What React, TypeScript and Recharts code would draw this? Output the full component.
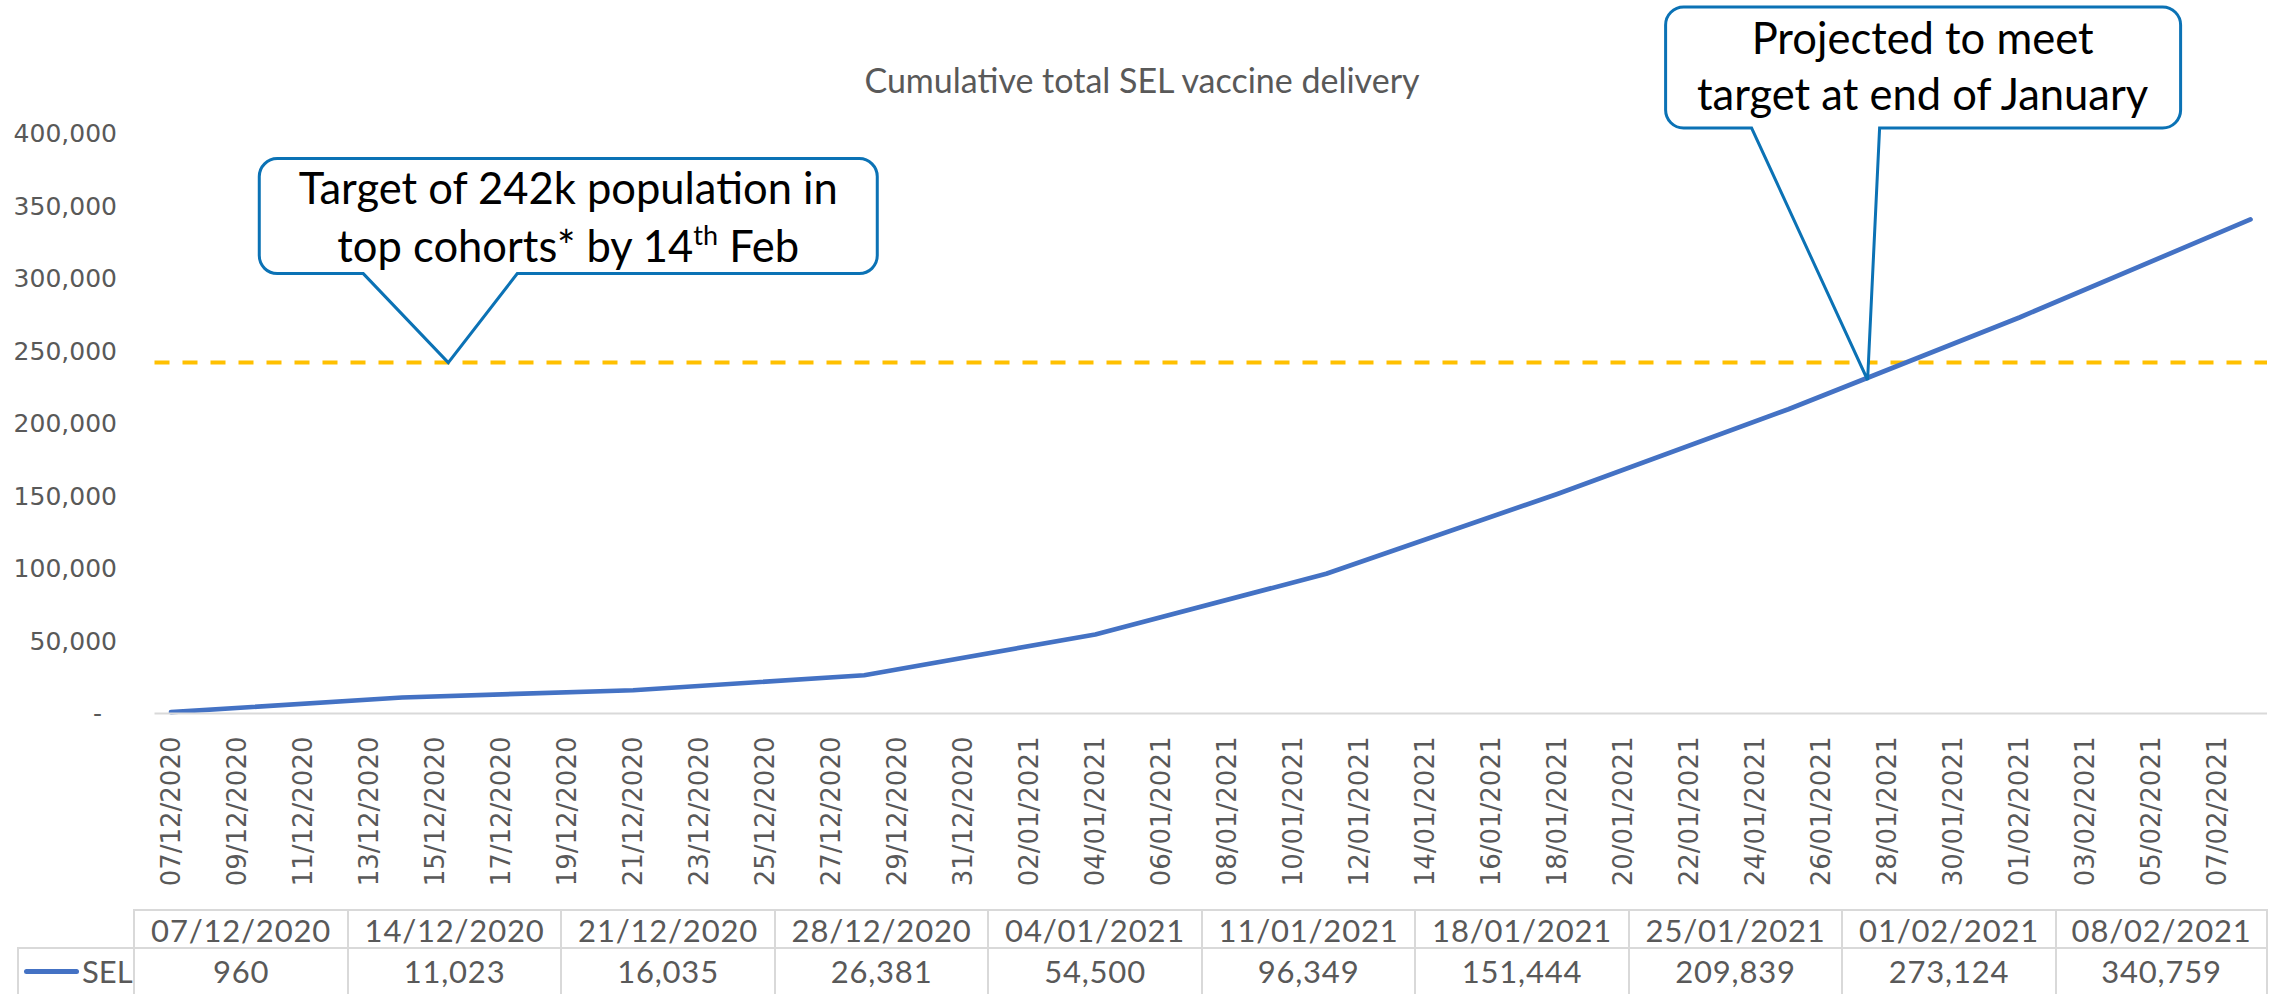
import React from 'react';
import { LineChart, Line, XAxis, YAxis, ReferenceLine, ReferenceDot } from 'recharts';

// weekly cumulative totals, x = days since 07/12/2020
const weekDates = [
  '07/12/2020', '14/12/2020', '21/12/2020', '28/12/2020', '04/01/2021',
  '11/01/2021', '18/01/2021', '25/01/2021', '01/02/2021', '08/02/2021',
];
const weekDays = [0, 7, 14, 21, 28, 35, 42, 49, 56, 63];
const selValues = [960, 11023, 16035, 26381, 54500, 96349, 151444, 209839, 273124, 340759];

// date axis labels, one every 2 days
const axisLabels = [
  '07/12/2020', '09/12/2020', '11/12/2020', '13/12/2020', '15/12/2020', '17/12/2020',
  '19/12/2020', '21/12/2020', '23/12/2020', '25/12/2020', '27/12/2020', '29/12/2020',
  '31/12/2020', '02/01/2021', '04/01/2021', '06/01/2021', '08/01/2021', '10/01/2021',
  '12/01/2021', '14/01/2021', '16/01/2021', '18/01/2021', '20/01/2021', '22/01/2021',
  '24/01/2021', '26/01/2021', '28/01/2021', '30/01/2021', '01/02/2021', '03/02/2021',
  '05/02/2021', '07/02/2021',
];
const yTicks = [0, 50000, 100000, 150000, 200000, 250000, 300000, 350000, 400000];
const targetValue = 242000;

// where the callout pointers touch the chart (day, value)
const targetCallout = { day: 8.4, value: 242000 };
const projectedCallout = { day: 51.4, value: 230000 };

const data = weekDays.map((d, i) => ({ day: d, date: weekDates[i], sel: selValues[i] }));
const labelDays = axisLabels.map((_, i) => i * 2);
const boundaryTicks = [...labelDays.map((d) => d - 0.5), 63.5];

const AXIS_FONT = '"DejaVu Sans", sans-serif';
const TEXT_FONT = 'Lato, "Open Sans", sans-serif';
const GREY = '#595959';

const YTick = (props: any) => {
  const { x, y, payload } = props;
  const v = payload.value as number;
  return (
    <text
      x={v === 0 ? x - 15 : x}
      y={y}
      textAnchor="end"
      dominantBaseline="central"
      fontFamily={AXIS_FONT}
      fontSize={25}
      fill={GREY}
    >
      {v === 0 ? '-' : v.toLocaleString('en-US')}
    </text>
  );
};

const XTick = (props: any) => {
  const { x, y, payload } = props;
  const label = axisLabels[Math.round(payload.value / 2)];
  const tx = x + 9;
  const ty = y + 22;
  return (
    <text
      x={tx}
      y={ty}
      transform={`rotate(-90, ${tx}, ${ty})`}
      textAnchor="end"
      fontFamily={AXIS_FONT}
      fontSize={26}
      fill={GREY}
    >
      {label}
    </text>
  );
};

interface CalloutCfg {
  left: number;
  right: number;
  top: number;
  bottom: number;
  baseL: number;
  baseR: number;
  textX: number;
  lines: React.ReactNode[];
  baselines: number[];
}

const calloutShape = (c: CalloutCfg) => (p: any) => {
  const { cx, cy } = p;
  const L = cx + c.left;
  const R = cx + c.right;
  const T = cy + c.top;
  const B = cy + c.bottom;
  const r = 18;
  const d =
    `M${L + r},${T} H${R - r} A${r},${r} 0 0 1 ${R},${T + r} V${B - r} ` +
    `A${r},${r} 0 0 1 ${R - r},${B} H${cx + c.baseR} L${cx},${cy} L${cx + c.baseL},${B} ` +
    `H${L + r} A${r},${r} 0 0 1 ${L},${B - r} V${T + r} A${r},${r} 0 0 1 ${L + r},${T} Z`;
  return (
    <g>
      <path d={d} fill="#fff" stroke="#0B72B5" strokeWidth={3} />
      {c.lines.map((ln, i) => (
        <text
          key={i}
          x={cx + c.textX}
          y={cy + c.baselines[i]}
          textAnchor="middle"
          fontFamily={TEXT_FONT}
          fontSize={43.5}
          fill="#000"
        >
          {ln}
        </text>
      ))}
    </g>
  );
};

const targetShape = calloutShape({
  left: -189,
  right: 429,
  top: -204,
  bottom: -89,
  baseL: -85,
  baseR: 69,
  textX: 120,
  baselines: [-159, -101],
  lines: [
    'Target of 242k population in',
    <>
      <tspan>top cohorts* by 14</tspan>
      <tspan fontSize={27} dy={-17}>th</tspan>
      <tspan dy={17}> Feb</tspan>
    </>,
  ],
});

const projectedShape = calloutShape({
  left: -202,
  right: 313,
  top: -373,
  bottom: -252,
  baseL: -116,
  baseR: 12,
  textX: 55,
  baselines: [-326, -270],
  lines: ['Projected to meet', 'target at end of January'],
});

const tableLeft = 133.3;
const colW = 213.5;
const headTop = 909.3;
const rowDiv = 948.3;
const BORDER = '2px solid #d9d9d9';

const cellText: React.CSSProperties = {
  fontFamily: TEXT_FONT,
  fontSize: 31,
  letterSpacing: 0.8,
  color: GREY,
};

export default function App() {
  return (
    <div
      style={{
        position: 'absolute',
        left: 0,
        top: 0,
        width: 2274,
        height: 994,
        overflow: 'hidden',
        background: '#fff',
      }}
    >
      <LineChart
        width={2274}
        height={994}
        data={data}
        margin={{ top: 133.5, right: 7, bottom: 278.5, left: 0 }}
      >
        <XAxis
          xAxisId="frame"
          dataKey="day"
          type="number"
          domain={[-0.5, 63.5]}
          ticks={boundaryTicks}
          interval={0}
          height={1}
          tick={false}
          tickSize={10}
          tickLine={{ stroke: '#d9d9d9', strokeWidth: 2 }}
          axisLine={{ stroke: '#d9d9d9', strokeWidth: 2 }}
        />
        <XAxis
          xAxisId="labels"
          dataKey="day"
          type="number"
          domain={[-0.5, 63.5]}
          ticks={labelDays}
          interval={0}
          height={1}
          tickSize={0}
          tickMargin={0}
          tickLine={false}
          axisLine={false}
          tick={<XTick />}
        />
        <YAxis
          type="number"
          domain={[0, 400000]}
          ticks={yTicks}
          interval={0}
          width={154.5}
          tickSize={0}
          tickMargin={37.5}
          axisLine={false}
          tickLine={false}
          tick={<YTick />}
        />
        <ReferenceLine
          xAxisId="frame"
          y={targetValue}
          stroke="#FFC000"
          strokeWidth={4}
          strokeDasharray="15 13"
        />
        <Line
          xAxisId="frame"
          type="linear"
          dataKey="sel"
          name="SEL"
          stroke="#4472C4"
          strokeWidth={4.7}
          strokeLinecap="round"
          strokeLinejoin="round"
          dot={false}
          activeDot={false}
          isAnimationActive={false}
        />
        <ReferenceDot
          xAxisId="frame"
          x={targetCallout.day}
          y={targetCallout.value}
          r={0}
          ifOverflow="visible"
          shape={targetShape}
        />
        <ReferenceDot
          xAxisId="frame"
          x={projectedCallout.day}
          y={projectedCallout.value}
          r={0}
          ifOverflow="visible"
          shape={projectedShape}
        />
      </LineChart>

      <div
        style={{
          position: 'absolute',
          left: 0,
          top: 59,
          width: 2284,
          textAlign: 'center',
          fontFamily: TEXT_FONT,
          fontSize: 34,
          color: GREY,
          lineHeight: '42px',
        }}
      >
        Cumulative total SEL vaccine delivery
      </div>

      {/* data table under the axis */}
      <div
        style={{
          position: 'absolute',
          left: tableLeft,
          top: headTop,
          width: colW * weekDates.length,
          height: rowDiv - headTop,
          borderTop: BORDER,
          boxSizing: 'border-box',
        }}
      />
      {weekDates.map((d, i) => (
        <div
          key={d}
          style={{
            ...cellText,
            position: 'absolute',
            left: tableLeft + i * colW,
            top: headTop,
            width: colW,
            height: rowDiv - headTop,
            borderLeft: BORDER,
            borderRight: i === weekDates.length - 1 ? BORDER : undefined,
            boxSizing: 'border-box',
            display: 'flex',
            alignItems: 'center',
            justifyContent: 'center',
            paddingTop: 2,
          }}
        >
          {d}
        </div>
      ))}
      <div
        style={{
          position: 'absolute',
          left: 17.3,
          top: rowDiv - 1,
          width: tableLeft + colW * weekDates.length - 17.3,
          height: 50,
          borderTop: BORDER,
          borderLeft: BORDER,
          boxSizing: 'border-box',
        }}
      />
      <div
        style={{
          position: 'absolute',
          left: 24,
          top: 968.5,
          width: 55,
          height: 5,
          borderRadius: 3,
          background: '#4472C4',
        }}
      />
      <div
        style={{
          ...cellText,
          letterSpacing: 0,
          position: 'absolute',
          left: 82,
          top: rowDiv,
          height: 46,
          display: 'flex',
          alignItems: 'center',
        }}
      >
        SEL
      </div>
      {selValues.map((v, i) => (
        <div
          key={i}
          style={{
            ...cellText,
            position: 'absolute',
            left: tableLeft + i * colW,
            top: rowDiv,
            width: colW,
            height: 46,
            borderLeft: BORDER,
            borderRight: i === selValues.length - 1 ? BORDER : undefined,
            boxSizing: 'border-box',
            display: 'flex',
            alignItems: 'center',
            justifyContent: 'center',
          }}
        >
          {v.toLocaleString('en-US')}
        </div>
      ))}
    </div>
  );
}
